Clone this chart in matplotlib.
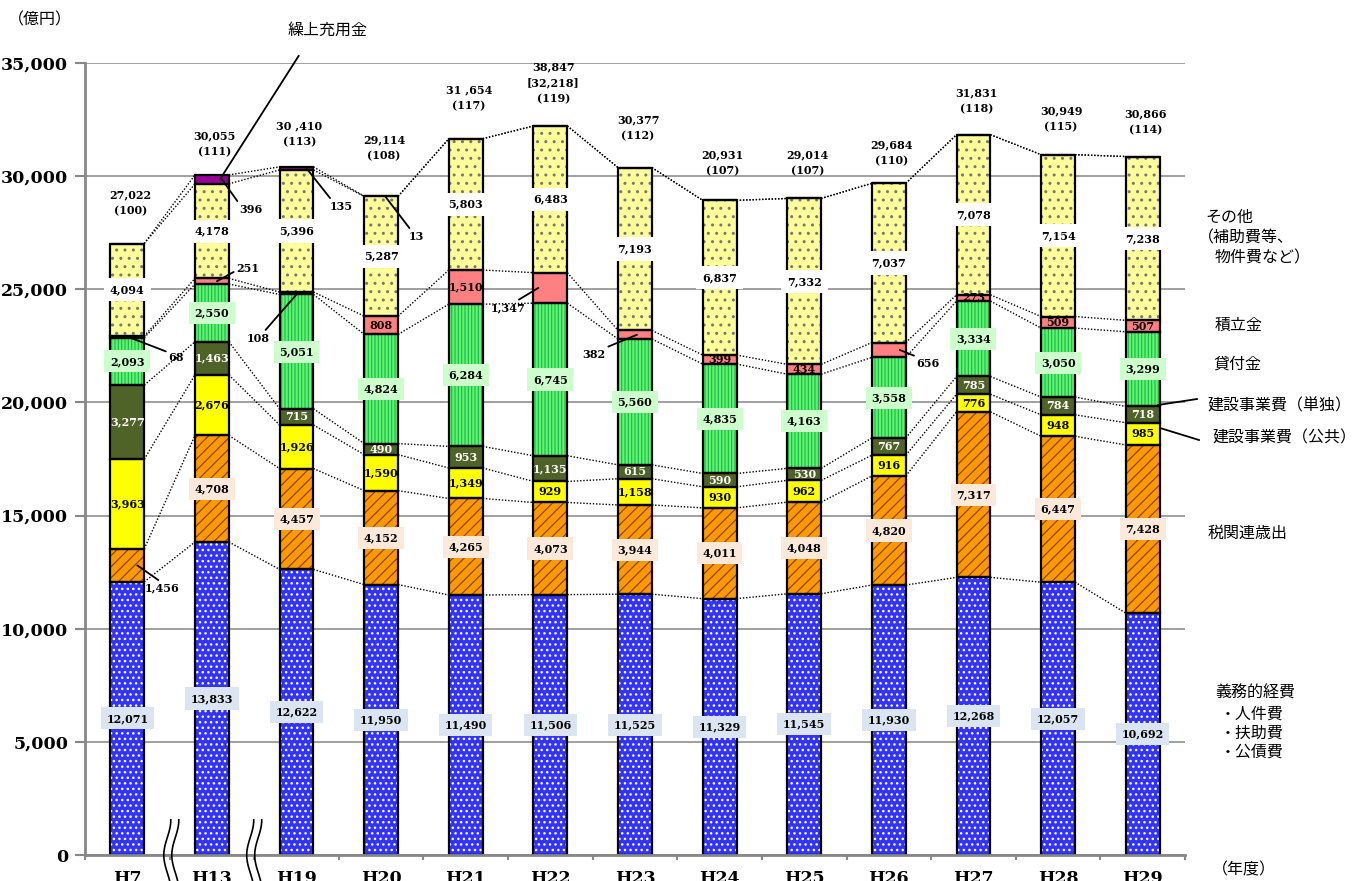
import numpy as np
import matplotlib
matplotlib.use('Agg')
import matplotlib.pyplot as plt
from matplotlib.lines import Line2D

plt.rcParams['font.family'] = ['Noto Sans CJK JP', 'DejaVu Sans']

# data (億円)
years = ['H7', 'H13', 'H19', 'H20', 'H21', 'H22', 'H23', 'H24', 'H25', 'H26', 'H27', 'H28', 'H29']
gimu = [12071, 13833, 12622, 11950, 11490, 11506, 11525, 11329, 11545, 11930, 12268, 12057, 10692]
zei = [1456, 4708, 4457, 4152, 4265, 4073, 3944, 4011, 4048, 4820, 7317, 6447, 7428]
kokyo = [3963, 2676, 1926, 1590, 1349, 929, 1158, 930, 962, 916, 776, 948, 985]
tandoku = [3277, 1463, 715, 490, 953, 1135, 615, 590, 530, 767, 785, 784, 718]
kashitsuke = [2093, 2550, 5051, 4824, 6284, 6745, 5560, 4835, 4163, 3558, 3334, 3050, 3299]
tsumitate = [68, 251, 108, 808, 1510, 1347, 382, 399, 434, 656, 273, 509, 507]
sonota = [4094, 4178, 5396, 5287, 5803, 6483, 7193, 6837, 7332, 7037, 7078, 7154, 7238]
kuriage = [0, 396, 135, 13, 0, 0, 0, 0, 0, 0, 0, 0, 0]
total_text = ['27,022', '30,055', '30 ,410', '29,114', '31 ,654', '38,847\n[32,218]', '30,377',
              '20,931', '29,014', '29,684', '31,831', '30,949', '30,866']
index_text = ['(100)', '(111)', '(113)', '(108)', '(117)', '(119)', '(112)', '(107)', '(107)',
              '(110)', '(118)', '(115)', '(114)']

series = [gimu, zei, kokyo, tandoku, kashitsuke, tsumitate, sonota, kuriage]
styles = [
    dict(face='#3333ff', hatch='...', hc='white', hlw=1.0, tc='black', box='#dbe5f1'),
    dict(face='#ff9900', hatch='///', hc='#8a4500', hlw=0.9, tc='black', box='#fde9d9'),
    dict(face='#ffff00', hatch=None, tc='black', box=None),
    dict(face='#4f6228', hatch=None, tc='white', box=None),
    dict(face='#5cf56e', hatch='|||||', hc='#22b34d', hlw=0.8, tc='black', box='#ccffcc'),
    dict(face='#ff8080', hatch=None, tc='black', box=None),
    dict(face='#ffff99', hatch='..', hc='#777777', hlw=1.0, tc='black', box='white'),
    dict(face='#990099', hatch=None, tc='black', box=None),
]

# labels drawn outside the bar: (series, bar) -> anchor dx (px), text offset (px), line attach point
outside = {
    (1, 0): dict(dx=10, off=(25, -23), rel=(0.5, 1)),
    (5, 0): dict(dx=1, off=(48, -21), rel=(0, 1)),
    (5, 1): dict(dx=5, off=(31, 13), rel=(0, 0.3)),
    (5, 2): dict(dx=1, off=(-39, -45), rel=(0.7, 1)),
    (5, 5): dict(dx=-12, off=(-30, -20), rel=(0.67, 1)),
    (5, 6): dict(dx=2, off=(-43, -20), rel=(0.85, 1)),
    (5, 9): dict(dx=11, off=(28, -14), rel=(0.2, 1)),
    (7, 1): dict(dx=10, off=(29, -30), rel=(0, 1)),
    (7, 2): dict(dx=10, off=(35, -38), rel=(0.1, 1)),
    (7, 3): dict(dx=4, off=(31, -40), rel=(0.2, 1)),
}
total_pad = [27, 18, 20, 35, 27, 22, 26, 24, 22, 17, 20, 22, 21]

W, H = 1357, 881
fig = plt.figure(figsize=(W / 100, H / 100), dpi=100)
ax = fig.add_axes([85 / W, 26 / H, 1100 / W, 792 / H])
px_x = 1100 / 13.0

x = np.arange(len(years))
bw = 0.40
bottom = np.zeros(len(years))
tops = []
for vals, st in zip(series, styles):
    v = np.array(vals, float)
    ax.bar(x, v, bw, bottom=bottom, color=st['face'], linewidth=0, zorder=2)
    if st['hatch']:
        plt.rcParams['hatch.linewidth'] = st['hlw']
        ax.bar(x, v, bw, bottom=bottom, color='none', edgecolor=st['hc'], linewidth=0,
               hatch=st['hatch'], zorder=2.1)
    ax.bar(x, v, bw, bottom=bottom, fill=False, edgecolor='black', linewidth=1.6, zorder=2.2)
    bottom = bottom + v
    tops.append(bottom.copy())

# series lines
for t in tops:
    for i in range(len(years) - 1):
        ax.plot([x[i] + bw / 2, x[i + 1] - bw / 2], [t[i], t[i + 1]], color='black', lw=1.0,
                ls=(0, (1, 1.3)), zorder=1.8)

num_font = dict(family='DejaVu Serif', weight='bold', size=8)
for s, (vals, st) in enumerate(zip(series, styles)):
    base = tops[s] - np.array(vals)
    for i, v in enumerate(vals):
        if v == 0:
            continue
        yc = base[i] + v / 2
        txt = f'{v:,}'
        if (s, i) in outside:
            o = outside[(s, i)]
            ax.annotate(txt, xy=(x[i] + o['dx'] / px_x, yc), xytext=o['off'],
                        textcoords='offset pixels', ha='center', va='center', zorder=6,
                        arrowprops=dict(arrowstyle='-', color='black', lw=1.3, shrinkA=0,
                                        shrinkB=0, relpos=o['rel']), **num_font)
        else:
            bb = None
            if st['box']:
                pad = 0.55 if st['box'] == 'white' else 0.5
                bb = dict(boxstyle=f'square,pad={pad}', fc=st['box'], ec='none')
            ax.text(x[i], yc, txt, ha='center', va='center', color=st['tc'], bbox=bb,
                    zorder=6, **num_font)

# totals above bars
for i in range(len(years)):
    ax.annotate(total_text[i] + '\n' + index_text[i], xy=(x[i], tops[-1][i]),
                xytext=(3, total_pad[i]), textcoords='offset pixels', ha='center', va='bottom',
                linespacing=1.55, zorder=6, **num_font)

# 繰上充用金 callout
ax.annotate('繰上充用金', xy=(x[1] + 8 / px_x, tops[-1][1] - kuriage[1] / 2), xytext=(108, 149),
            textcoords='offset pixels', ha='center', va='center', fontsize=11.5,
            arrowprops=dict(arrowstyle='-', color='black', lw=1.3, shrinkA=12, shrinkB=0,
                            relpos=(0.27, 0)))

ax.set_xlim(-0.5, 12.5)
ax.set_ylim(0, 35000)
yt = np.arange(0, 35001, 5000)
ax.set_yticks(yt)
ax.set_yticklabels([f'{v:,}' for v in yt], fontfamily='DejaVu Serif', fontweight='bold',
                   fontsize=12.5)
ax.tick_params(axis='y', length=7, width=1.5, color='#888888', pad=5)
ax.set_xticks(x)
ax.set_xticklabels(years, fontfamily='DejaVu Serif', fontweight='bold', fontsize=12.5)
ax.tick_params(axis='x', which='major', length=0, pad=10.5)
ax.set_xticks(np.arange(-0.5, 13, 1), minor=True)
ax.tick_params(axis='x', which='minor', length=3.5, width=1.5, color='#888888')
ax.yaxis.grid(True, color='#999999', lw=1.3)
ax.set_axisbelow(True)
for sp in ['top', 'right']:
    ax.spines[sp].set_visible(False)
for sp in ['left', 'bottom']:
    ax.spines[sp].set_color('#888888')
    ax.spines[sp].set_linewidth(2)

# axis break marks
tt = np.linspace(0, 1, 60)
for xb in [0.52, 1.5]:
    for k in (-4, 4):
        xs = xb + (k + 3.5 * np.cos(2 * np.pi * 0.9 * tt)) / px_x
        ys = 1550 - tt * 2800
        ax.plot(xs, ys, color='black', lw=1.2, clip_on=False, zorder=7)

# legend texts on the right
def ftext(px, py, s, **kw):
    fig.text(px / W, 1 - py / H, s, ha='left', va='center', fontsize=11.5, **kw)

ftext(8, 20, '（億円）')
ftext(1205, 217, 'その他')
ftext(1198, 238, '（補助費等、')
ftext(1215, 258, '物件費など）')
ftext(1215, 325, '積立金')
ftext(1213, 364, '貸付金')
ftext(1207, 406, '建設事業費（単独）')
ftext(1212, 438, '建設事業費（公共）')
ftext(1208, 533, '税関連歳出')
ftext(1215, 693, '義務的経費')
ftext(1220, 714, '・人件費')
ftext(1220, 733, '・扶助費')
ftext(1220, 752, '・公債費')
ftext(1212, 870, '（年度）')

for (x0, y0, x1, y1) in [(1158, 405, 1197, 399), (1160, 428, 1199, 440)]:
    fig.add_artist(Line2D([x0 / W, x1 / W], [1 - y0 / H, 1 - y1 / H], color='black', lw=1.3,
                          transform=fig.transFigure))

fig.savefig('out.png', dpi=100)
